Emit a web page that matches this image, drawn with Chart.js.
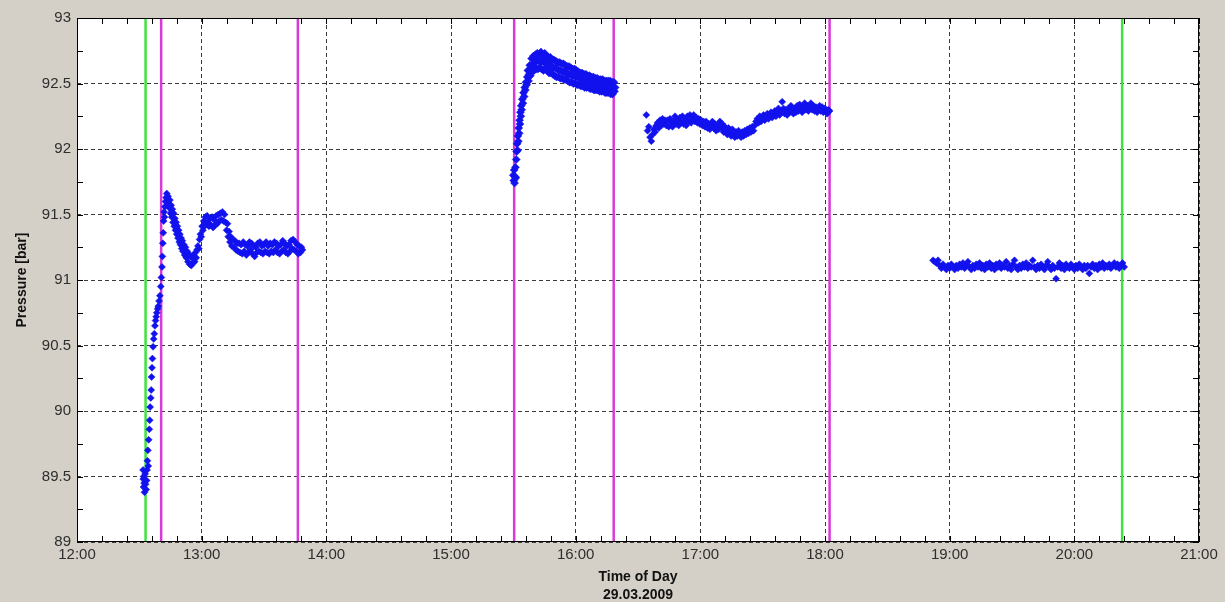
<!DOCTYPE html>
<html>
<head>
<meta charset="utf-8">
<title>Pressure [bar] – 29.03.2009</title>
<script src="https://cdn.jsdelivr.net/npm/chart.js@4"></script>
<style>
  html, body { margin: 0; padding: 0; background: #d4d0c8; }
  canvas { display: block; }
</style>
</head>
<body>
<canvas id="chart" width="1225" height="602"></canvas>
<script>
// Readings as [minutes after 12:00, pressure in bar], one array per measuring run.
const run1 = [
  [31.8,89.55],[31.9,89.48],[32.0,89.42],[32.1,89.50],[32.3,89.45],[32.5,89.38],[32.8,89.52],[33.0,89.44],
  [33.3,89.40],[33.5,89.47],[33.7,89.55],[33.9,89.62],[34.1,89.70],[34.3,89.58],[34.5,89.78],[34.8,89.86],
  [35.0,89.93],[35.2,90.03],[35.5,90.10],[35.7,90.16],[35.9,90.26],[36.1,90.33],[36.3,90.40],[36.6,90.49],
  [36.9,90.55],[37.2,90.59],[37.5,90.65],[37.8,90.69],[38.1,90.72],[38.4,90.75],[38.8,90.78],[39.1,90.80],
  [39.5,90.84],[39.9,90.88],[40.3,90.95],[40.6,91.02],[40.9,91.10],[41.1,91.18],[41.3,91.28],[41.5,91.36],
  [41.7,91.45],[41.9,91.52],[42.1,91.48],[42.3,91.56],[42.6,91.60],[42.9,91.63],[43.2,91.66],[43.5,91.62],
  [43.8,91.64],[44.1,91.58],[44.4,91.55],[44.7,91.61],[45.0,91.51],[45.3,91.57],[45.6,91.48],[45.9,91.54],
  [46.2,91.44],[46.5,91.51],[46.8,91.41],[47.1,91.47],[47.4,91.38],[47.7,91.44],[48.0,91.35],[48.3,91.41],
  [48.6,91.32],[48.9,91.38],[49.2,91.29],[49.5,91.35],[49.8,91.27],[50.1,91.32],[50.4,91.24],[50.7,91.30],
  [51.0,91.22],[51.4,91.27],[51.8,91.19],[52.2,91.25],[52.6,91.17],[53.0,91.22],[53.4,91.14],[53.8,91.20],
  [54.2,91.12],[54.6,91.18],[55.0,91.11],[55.4,91.17],[55.8,91.13],[56.2,91.19],[56.6,91.14],[57.0,91.21],
  [57.4,91.17],[57.8,91.23],[58.2,91.26],[58.6,91.24],[59.0,91.31],[59.4,91.35],[59.8,91.33],[60.2,91.41],
  [60.6,91.38],[61.0,91.45],[61.4,91.41],[61.8,91.48],[62.2,91.43],[62.6,91.49],[63.0,91.44],[63.5,91.41],
  [64.0,91.47],[64.5,91.42],[65.0,91.48],[65.5,91.40],[66.0,91.46],[66.5,91.42],[67.0,91.49],[67.5,91.43],
  [68.0,91.50],[68.5,91.45],[69.0,91.51],[69.5,91.46],[70.0,91.52],[70.5,91.45],[71.0,91.50],[71.5,91.44],
  [72.0,91.38],[72.4,91.43],[72.8,91.33],[73.2,91.37],[73.6,91.29],[74.0,91.33],[74.5,91.26],[75.0,91.31],
  [75.5,91.25],[76.0,91.30],[76.5,91.23],[77.0,91.28],[77.5,91.22],[78.0,91.28],[78.5,91.21],[79.0,91.27],
  [79.5,91.20],[80.0,91.29],[80.5,91.22],[81.0,91.27],[81.5,91.19],[82.0,91.26],[82.5,91.21],[83.0,91.29],
  [83.5,91.23],[84.0,91.28],[84.5,91.20],[85.0,91.26],[85.5,91.18],[86.0,91.25],[86.5,91.21],[87.0,91.28],
  [87.5,91.22],[88.0,91.29],[88.5,91.21],[89.0,91.26],[89.5,91.20],[90.0,91.27],[90.5,91.22],[91.0,91.29],
  [91.5,91.21],[92.0,91.26],[92.5,91.20],[93.0,91.28],[93.5,91.22],[94.0,91.27],[94.5,91.21],[95.0,91.29],
  [95.5,91.23],[96.0,91.28],[96.5,91.21],[97.0,91.26],[97.5,91.20],[98.0,91.27],[98.5,91.22],[99.0,91.30],
  [99.5,91.23],[100.0,91.28],[100.5,91.21],[101.0,91.26],[101.5,91.20],[102.0,91.27],[102.5,91.22],[103.0,91.30],
  [103.5,91.24],[104.0,91.31],[104.5,91.23],[105.0,91.29],[105.5,91.22],[106.0,91.27],[106.5,91.20],[107.0,91.26],
  [107.5,91.21],[108.0,91.25],[108.5,91.23]
];

const run2 = [
  [210.0,91.80],[210.2,91.76],[210.4,91.84],[210.6,91.74],[210.8,91.79],[211.0,91.86],[211.2,91.78],[211.4,91.92],
  [211.6,91.98],[211.8,92.04],[212.0,91.99],[212.2,92.10],[212.4,92.06],[212.6,92.16],[212.8,92.12],[213.0,92.22],
  [213.2,92.19],[213.4,92.28],[213.6,92.25],[213.8,92.33],[214.0,92.30],[214.3,92.38],[214.6,92.35],[214.9,92.43],
  [215.2,92.40],[215.5,92.47],[215.8,92.45],[216.1,92.51],[216.4,92.49],[216.7,92.55],
  [217.0,92.60],[217.3,92.52],[217.6,92.57],[217.9,92.64],[218.2,92.56],[218.5,92.61],
  [218.8,92.69],[219.1,92.59],[219.4,92.64],[219.7,92.71],[220.0,92.60],[220.3,92.66],
  [220.6,92.72],[220.9,92.61],[221.2,92.67],[221.5,92.73],[221.8,92.61],[222.1,92.68],
  [222.4,92.72],[222.7,92.62],[223.0,92.66],[223.3,92.74],[223.6,92.61],[223.9,92.68],
  [224.2,92.72],[224.5,92.60],[224.8,92.66],[225.1,92.73],[225.4,92.61],[225.7,92.67],
  [226.0,92.71],[226.3,92.60],[226.6,92.65],[226.9,92.70],[227.2,92.58],[227.5,92.64],
  [227.8,92.70],[228.1,92.58],[228.4,92.63],[228.7,92.68],[229.0,92.57],[229.3,92.62],
  [229.6,92.68],[229.9,92.56],[230.2,92.62],[230.5,92.67],[230.8,92.55],[231.1,92.61],
  [231.4,92.66],[231.7,92.55],[232.0,92.60],[232.3,92.66],[232.6,92.54],[232.9,92.60],
  [233.2,92.65],[233.5,92.54],[233.8,92.59],[234.1,92.65],[234.4,92.53],[234.7,92.59],
  [235.0,92.64],[235.3,92.53],[235.6,92.58],[235.9,92.63],[236.2,92.52],[236.5,92.57],
  [236.8,92.63],[237.1,92.51],[237.4,92.57],[237.7,92.62],[238.0,92.51],[238.3,92.56],
  [238.6,92.61],[238.9,92.50],[239.2,92.56],[239.5,92.61],[239.8,92.50],[240.1,92.55],
  [240.4,92.60],[240.7,92.49],[241.0,92.55],[241.3,92.59],[241.6,92.49],[241.9,92.54],
  [242.2,92.58],[242.5,92.48],[242.8,92.53],[243.1,92.58],[243.4,92.48],[243.7,92.53],
  [244.0,92.57],[244.3,92.47],[244.6,92.52],[244.9,92.57],[245.2,92.47],[245.5,92.52],
  [245.8,92.56],[246.1,92.47],[246.4,92.51],[246.7,92.56],[247.0,92.46],[247.3,92.51],
  [247.6,92.55],[247.9,92.46],[248.2,92.50],[248.5,92.55],[248.8,92.45],[249.1,92.50],
  [249.4,92.54],[249.7,92.45],[250.0,92.49],[250.3,92.54],[250.6,92.45],[250.9,92.49],
  [251.2,92.53],[251.5,92.44],[251.8,92.49],[252.1,92.53],[252.4,92.44],[252.7,92.48],
  [253.0,92.53],[253.3,92.44],[253.6,92.48],[253.9,92.52],[254.2,92.43],[254.5,92.48],
  [254.8,92.52],[255.1,92.43],[255.4,92.47],[255.7,92.52],[256.0,92.43],[256.3,92.47],
  [256.6,92.52],[256.9,92.42],[257.2,92.47],[257.5,92.51],[257.8,92.42],[258.1,92.47],
  [258.4,92.51],[258.7,92.44],[259.0,92.47]
];

const run3 = [
  [274.0,92.26],[274.6,92.14],[275.2,92.17],[275.8,92.09],[276.4,92.06],[277.0,92.11],[277.6,92.15],[278.2,92.13],
  [278.8,92.18],[279.4,92.20],[280.0,92.16],[280.6,92.22],[281.2,92.18],[281.8,92.23],[282.4,92.19],[283.0,92.22],
  [283.6,92.18],[284.2,92.22],[284.8,92.17],[285.4,92.23],[286.0,92.20],[286.6,92.17],[287.2,92.21],[287.8,92.25],
  [288.4,92.19],[289.0,92.22],[289.6,92.18],[290.2,92.24],[290.8,92.20],[291.4,92.25],[292.0,92.19],[292.6,92.22],
  [293.2,92.18],[293.8,92.25],[294.4,92.21],[295.0,92.26],[295.6,92.20],[296.2,92.23],[296.8,92.26],[297.4,92.21],
  [298.0,92.24],[298.6,92.20],[299.2,92.23],[299.8,92.19],[300.4,92.22],[301.0,92.18],[301.6,92.21],[302.2,92.17],
  [302.8,92.21],[303.4,92.16],[304.0,92.19],[304.6,92.15],[305.2,92.18],[305.8,92.21],[306.4,92.16],[307.0,92.19],
  [307.6,92.14],[308.2,92.18],[308.8,92.15],[309.4,92.21],[310.0,92.16],[310.6,92.19],[311.2,92.13],[311.8,92.17],
  [312.4,92.14],[313.0,92.11],[313.6,92.16],[314.2,92.12],[314.8,92.10],[315.4,92.15],[316.0,92.11],[316.6,92.09],
  [317.2,92.13],[317.8,92.10],[318.4,92.14],[319.0,92.11],[319.6,92.09],[320.2,92.13],[320.8,92.10],[321.4,92.14],
  [322.0,92.11],[322.6,92.15],[323.2,92.12],[323.8,92.16],[324.4,92.13],[325.0,92.17],[325.6,92.14],[326.2,92.18],
  [326.8,92.21],[327.4,92.23],[328.0,92.20],[328.6,92.25],[329.2,92.21],[329.8,92.24],[330.4,92.26],[331.0,92.22],
  [331.6,92.25],[332.2,92.27],[332.8,92.23],[333.4,92.26],[334.0,92.28],[334.6,92.24],[335.2,92.27],[335.8,92.29],
  [336.4,92.25],[337.0,92.28],[337.6,92.31],[338.2,92.26],[338.8,92.29],[339.4,92.36],[340.0,92.31],[340.6,92.27],
  [341.2,92.30],[341.8,92.26],[342.4,92.31],[343.0,92.28],[343.6,92.33],[344.2,92.29],[344.8,92.27],[345.4,92.31],
  [346.0,92.28],[346.6,92.33],[347.2,92.29],[347.8,92.34],[348.4,92.30],[349.0,92.28],[349.6,92.32],[350.2,92.35],
  [350.8,92.30],[351.4,92.33],[352.0,92.29],[352.6,92.32],[353.2,92.35],[353.8,92.30],[354.4,92.33],[355.0,92.29],
  [355.6,92.32],[356.2,92.28],[356.8,92.31],[357.4,92.33],[358.0,92.29],[358.6,92.32],[359.2,92.28],[359.8,92.31],
  [360.4,92.30],[361.0,92.27],[361.6,92.30],[362.2,92.29]
];

const run4 = [
  [412.0,91.15],[412.8,91.14],[413.6,91.13],[414.4,91.15],[415.2,91.11],[416.0,91.09],[416.8,91.12],[417.6,91.10],
  [418.4,91.08],[419.2,91.11],[420.0,91.09],[420.8,91.12],[421.6,91.10],[422.4,91.08],[423.2,91.11],[424.0,91.09],
  [424.8,91.12],[425.6,91.10],[426.4,91.13],[427.2,91.09],[428.0,91.11],[428.8,91.14],[429.6,91.10],[430.4,91.08],
  [431.2,91.11],[432.0,91.09],[432.8,91.12],[433.6,91.10],[434.4,91.13],[435.2,91.09],[436.0,91.11],[436.8,91.08],
  [437.6,91.12],[438.4,91.10],[439.2,91.13],[440.0,91.09],[440.8,91.11],[441.6,91.08],[442.4,91.12],[443.2,91.10],
  [444.0,91.13],[444.8,91.09],[445.6,91.11],[446.4,91.10],[447.2,91.14],[448.0,91.09],[448.8,91.11],[449.6,91.08],
  [450.4,91.12],[451.2,91.15],[452.0,91.10],[452.8,91.08],[453.6,91.11],[454.4,91.09],[455.2,91.12],[456.0,91.10],
  [456.8,91.13],[457.6,91.09],[458.4,91.11],[459.2,91.10],[460.0,91.15],[460.8,91.10],[461.6,91.08],[462.4,91.11],
  [463.2,91.09],[464.0,91.12],[464.8,91.10],[465.6,91.08],[466.4,91.11],[467.2,91.14],[468.0,91.10],[468.8,91.08],
  [469.6,91.11],[470.4,91.09],[471.2,91.01],[472.0,91.10],[472.8,91.13],[473.6,91.09],[474.4,91.11],[475.2,91.08],
  [476.0,91.12],[476.8,91.10],[477.6,91.09],[478.4,91.12],[479.2,91.10],[480.0,91.08],[480.8,91.11],[481.6,91.09],
  [482.4,91.12],[483.2,91.10],[484.0,91.08],[484.8,91.11],[485.6,91.09],[486.4,91.11],[487.2,91.05],[488.0,91.10],
  [488.8,91.12],[489.6,91.09],[490.4,91.11],[491.2,91.08],[492.0,91.12],[492.8,91.10],[493.6,91.13],[494.4,91.09],
  [495.2,91.11],[496.0,91.10],[496.8,91.12],[497.6,91.09],[498.4,91.11],[499.2,91.13],[500.0,91.10],[500.8,91.12],
  [501.6,91.09],[502.4,91.11],[503.2,91.13],[504.0,91.10]
];

// Event markers (minutes after 12:00): start/end in green, phase changes in magenta.
const greenMarks = [33.0, 503.0];
const magentaMarks = [40.5, 106.3, 210.4, 258.3, 362.2];

const xTickLabels = ['12:00','13:00','14:00','15:00','16:00','17:00','18:00','19:00','20:00','21:00'];
const yTickLabels = ['89','89.5','90','90.5','91','91.5','92','92.5','93'];

const Y_MIN = 89, Y_MAX = 93;
const FONT = '"Liberation Sans", Arial, Helvetica, sans-serif';
const POINT_BLUE = '#1212ee';
const GRID = '#3a3a3a';

function pointSet(run, r) {
  return {
    data: run.map(([m, p]) => ({ x: m, y: p })),
    showLine: false,
    pointStyle: 'rectRot',
    pointRadius: r,
    pointHoverRadius: r,
    pointBackgroundColor: POINT_BLUE,
    pointBorderColor: POINT_BLUE,
    pointBorderWidth: 0.5,
    order: 1
  };
}

function markerSet(m, color) {
  return {
    data: [{ x: m, y: Y_MIN }, { x: m, y: Y_MAX }],
    showLine: true,
    borderColor: color,
    borderWidth: 2.5,
    pointRadius: 0,
    pointHoverRadius: 0,
    order: 2
  };
}

// Grey window background, white plot area, black frame with inward ticks on all sides.
const frameTicks = {
  id: 'frameTicks',
  beforeDraw(chart) {
    const { ctx, chartArea: a } = chart;
    ctx.save();
    ctx.fillStyle = '#d4d0c8';
    ctx.fillRect(0, 0, chart.width, chart.height);
    ctx.fillStyle = '#ffffff';
    ctx.fillRect(a.left, a.top, a.right - a.left, a.bottom - a.top);
    ctx.restore();
  },
  afterDatasetsDraw(chart) {
    const { ctx, chartArea: a, scales: { x, y } } = chart;
    const L = 6;
    ctx.save();
    ctx.strokeStyle = '#000';
    ctx.lineWidth = 1;
    ctx.beginPath();
    x.ticks.forEach(t => {
      const px = Math.round(x.getPixelForValue(t.value)) + 0.5;
      ctx.moveTo(px, a.top); ctx.lineTo(px, a.top + L);
      ctx.moveTo(px, a.bottom); ctx.lineTo(px, a.bottom - L);
    });
    y.ticks.forEach(t => {
      const py = Math.round(y.getPixelForValue(t.value)) + 0.5;
      ctx.moveTo(a.left, py); ctx.lineTo(a.left + L, py);
      ctx.moveTo(a.right, py); ctx.lineTo(a.right - L, py);
    });
    ctx.stroke();
    ctx.strokeRect(Math.round(a.left) + 0.5, Math.round(a.top) + 0.5,
                   Math.round(a.right - a.left) - 1, Math.round(a.bottom - a.top) - 1);
    ctx.restore();
  }
};

const isHour = v => Math.abs(v % 60) < 1e-6;
const isHalfBar = v => Math.round((v - Y_MIN) * 4) % 2 === 0;

new Chart(document.getElementById('chart'), {
  type: 'scatter',
  data: {
    datasets: [
      ...greenMarks.map(m => markerSet(m, '#3ee23e')),
      ...magentaMarks.map(m => markerSet(m, '#d83ad8')),
      pointSet(run1, 3.5), pointSet(run2, 4), pointSet(run3, 3.5), pointSet(run4, 3.5)
    ]
  },
  options: {
    responsive: false,
    animation: false,
    devicePixelRatio: 1,
    events: [],
    layout: { padding: { top: 18, right: 26, left: 0, bottom: 0 } },
    plugins: { legend: { display: false }, tooltip: { enabled: false } },
    scales: {
      x: {
        type: 'linear',
        min: 0,
        max: 540,
        afterFit: s => { s.height = 60; },
        ticks: {
          stepSize: 12,
          autoSkip: false,
          maxRotation: 0,
          minRotation: 0,
          padding: 4,
          color: '#2e2e2e',
          font: { family: FONT, size: 15 },
          callback: v => isHour(v) ? xTickLabels[Math.round(v / 60)] : ''
        },
        grid: {
          drawTicks: false,
          lineWidth: 1,
          color: c => (c.tick && isHour(c.tick.value)) ? GRID : 'rgba(0,0,0,0)'
        },
        border: { display: false, dash: [4, 3] },
        title: {
          display: true,
          text: ['Time of Day', '29.03.2009'],
          color: '#111',
          font: { family: FONT, size: 14, weight: 'bold', lineHeight: 1.3 },
          padding: { top: 0, bottom: -2 }
        }
      },
      y: {
        min: Y_MIN,
        max: Y_MAX,
        afterFit: s => { s.width = 77; },
        ticks: {
          stepSize: 0.25,
          autoSkip: false,
          padding: 6,
          color: '#2e2e2e',
          font: { family: FONT, size: 15 },
          callback: v => isHalfBar(v) ? yTickLabels[Math.round((v - Y_MIN) * 2)] : ''
        },
        grid: {
          drawTicks: false,
          lineWidth: 1,
          color: c => (c.tick && isHalfBar(c.tick.value)) ? GRID : 'rgba(0,0,0,0)'
        },
        border: { display: false, dash: [4, 3] },
        title: {
          display: true,
          text: 'Pressure [bar]',
          color: '#111',
          font: { family: FONT, size: 14, weight: 'bold' },
          padding: { top: 14, bottom: 0 }
        }
      }
    }
  },
  plugins: [frameTicks]
});
</script>
</body>
</html>
